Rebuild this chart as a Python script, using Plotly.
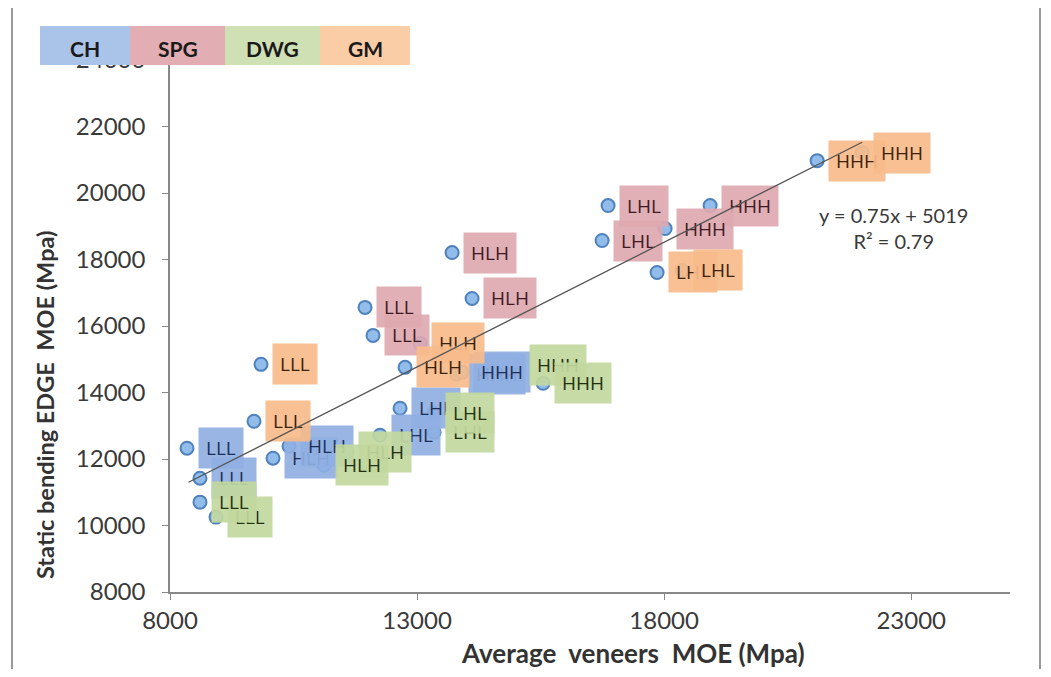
import plotly.graph_objects as go

# series: each group has 8 panels (2 per layup class)
groups = ["CH", "SPG", "DWG", "GM"]

ch_x = [10085, 10409, 8607, 8344, 12251, 12656, 13800, 13911]
ch_y = [12024, 12384, 11423, 12324, 12715, 13526, 14550, 14607]
ch_lab = ["HLH", "HLH", "LLL", "LLL", "LHL", "LHL", "HHH", "HHH"]

spg_x = [12109, 11947, 13709, 14113, 16745, 16866, 18931, 18020]
spg_y = [15718, 16559, 18210, 16829, 18571, 19622, 19622, 18931]
spg_lab = ["LLL", "LLL", "HLH", "HLH", "LHL", "LHL", "HHH", "HHH"]

dwg_x = [8931, 8607, 11583, 11117, 13344, 13344, 15045, 15551]
dwg_y = [10252, 10703, 12204, 11814, 12805, 13375, 14817, 14276]
dwg_lab = ["LLL", "LLL", "HLH", "HLH", "LHL", "LHL", "HHH", "HHH"]

gm_x = [9842, 9700, 13061, 12757, 17858, 18364, 21097, 22008]
gm_y = [14847, 13135, 15477, 14757, 17610, 17670, 20973, 21213]
gm_lab = ["LLL", "LLL", "HLH", "HLH", "LHL", "LHL", "HHH", "HHH"]

# trendline from the chart
slope = 0.75
intercept = 5019
r2 = 0.79

x_ticks = [8000, 13000, 18000, 23000]
y_ticks = [8000, 10000, 12000, 14000, 16000, 18000, 20000, 22000, 24000]

data = [(ch_x, ch_y, ch_lab), (spg_x, spg_y, spg_lab), (dwg_x, dwg_y, dwg_lab), (gm_x, gm_y, gm_lab)]
box_col = {"CH": "rgba(143,175,226,0.92)", "SPG": "rgba(222,168,176,0.92)",
           "DWG": "rgba(194,216,158,0.92)", "GM": "rgba(247,187,138,0.92)"}
txt_col = {"CH": "#1c2f5a", "SPG": "#3d1a1f", "DWG": "#22300f", "GM": "#3b2208"}
leg_col = {"CH": "#a9c4e8", "SPG": "#e3aeb3", "DWG": "#cfe0b5", "GM": "#fbcda6"}

# page body has an 8px margin, so the figure starts at (8, 8) of the window
OFF = 8
W, H = 1051 - 2 * OFF, 677 - 2 * OFF
PL, PR, PT, PB = 170, 1010, 60, 592   # plot area in window pixels


# window pixel -> paper helpers for layout things
def px(x):
    return (x - PL) / (PR - PL)


def py(y):
    return (PB - y) / (PB - PT)


fig = go.Figure()

for g, (xs, ys, labs) in zip(groups, data):
    fig.add_trace(go.Scatter(x=xs, y=ys, mode="markers", name=g, showlegend=False,
                             marker=dict(size=13, color="#92bdea",
                                         line=dict(color="#4f81bd", width=2))))

# data labels (boxes to the right of each marker)
for g, (xs, ys, labs) in zip(groups, data):
    for x, y, lab in zip(xs, ys, labs):
        fig.add_annotation(x=x, y=y, xref="x", yref="y", text=lab, showarrow=False,
                           xanchor="left", yanchor="middle", xshift=11,
                           bgcolor=box_col[g], borderpad=7,
                           font=dict(family="Open Sans", size=19, color=txt_col[g]))

# linear trendline drawn over the labels
all_x = ch_x + spg_x + dwg_x + gm_x
x0, x1 = min(all_x), max(all_x)
fig.add_annotation(x=x1, y=slope * x1 + intercept, ax=x0, ay=slope * x0 + intercept,
                   xref="x", yref="y", axref="x", ayref="y", text="", showarrow=True,
                   arrowhead=0, arrowwidth=1.3, arrowcolor="#555555", standoff=0, startstandoff=0)

fig.add_annotation(x=px(893), y=py(228), xref="paper", yref="paper", showarrow=False,
                   xanchor="center", yanchor="middle",
                   text="y = %.2fx + %d<br>R\u00b2 = %.2f" % (slope, intercept, r2),
                   font=dict(family="Lato", size=20, color="#3a3a3a"), align="center")

# legend band top-left
leg_x = [40, 130, 225, 320, 410]
for i, g in enumerate(groups):
    fig.add_shape(type="rect", xref="paper", yref="paper", x0=px(leg_x[i]), x1=px(leg_x[i + 1]),
                  y0=py(65), y1=py(26), fillcolor=leg_col[g], line=dict(width=0), layer="above")
    fig.add_annotation(x=px((leg_x[i] + leg_x[i + 1]) / 2), y=py(48), xref="paper", yref="paper",
                       xanchor="center", yanchor="middle", text="<b>" + g + "</b>", showarrow=False,
                       font=dict(family="Lato", size=21, color="#1a1a1a"))

# axis titles
fig.add_annotation(x=px(45), y=py(405), xref="paper", yref="paper", showarrow=False, textangle=-90,
                   xanchor="center", yanchor="middle",
                   text="<b>Static bending EDGE\u00a0 MOE (Mpa)</b>",
                   font=dict(family="Lato", size=23.5, color="#333333"))
fig.add_annotation(x=px(633), y=py(653), xref="paper", yref="paper", showarrow=False,
                   xanchor="center", yanchor="middle",
                   text="<b>Average\u00a0 veneers\u00a0 MOE (Mpa)</b>",
                   font=dict(family="Lato", size=26, color="#333333"))

# chart border
fig.add_shape(type="rect", xref="paper", yref="paper", x0=px(12), x1=px(1040), y0=py(700), y1=py(7),
              line=dict(color="#9a9a9a", width=2), layer="below")

axis_style = dict(showline=True, linecolor="#888888", linewidth=1.5, ticks="outside", ticklen=6,
                  tickcolor="#888888", showgrid=False, zeroline=False, tickformat="d",
                  tickfont=dict(family="Lato", size=24, color="#3a3a3a"))

fig.update_xaxes(range=[8000, 25000], tickvals=x_ticks, ticklabelstandoff=0, **axis_style)
fig.update_yaxes(range=[8000, 24000], tickvals=y_ticks, ticklabelstandoff=12, **axis_style)

fig.update_layout(width=W, height=H,
                  margin=dict(l=PL - OFF, r=W - (PR - OFF), t=PT - OFF, b=H - (PB - OFF)),
                  plot_bgcolor="white", paper_bgcolor="white", showlegend=False)

fig.write_html("out.html")
